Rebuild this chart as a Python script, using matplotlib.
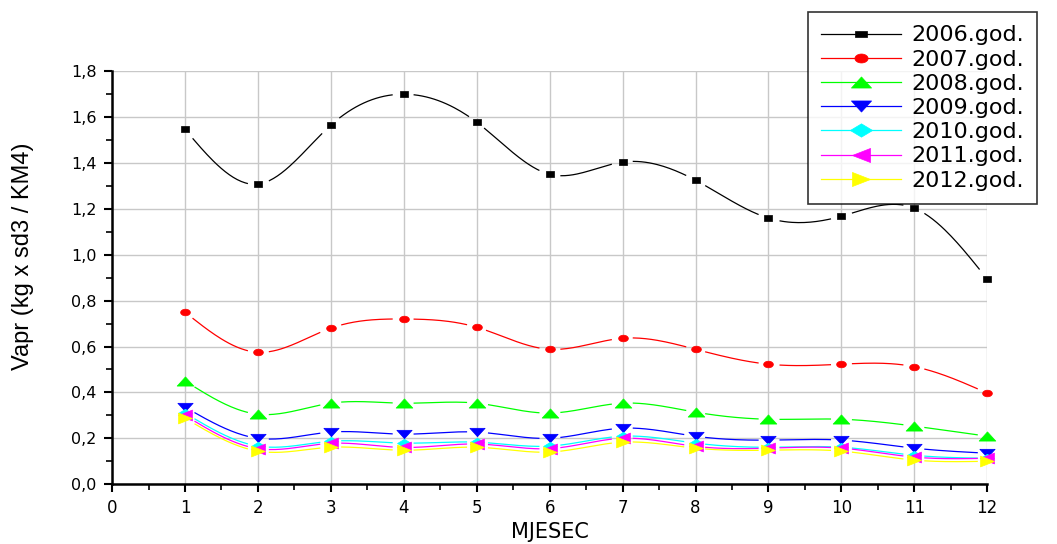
import matplotlib
matplotlib.use("Agg")
import matplotlib.pyplot as plt
from matplotlib.path import Path
import numpy as np

plt.rcParams['font.family'] = ['DejaVu Sans']

months = [1, 2, 3, 4, 5, 6, 7, 8, 9, 10, 11, 12]

v2006 = [1.547, 1.308, 1.565, 1.700, 1.578, 1.351, 1.404, 1.325, 1.160, 1.168, 1.203, 0.894]
v2007 = [0.750, 0.575, 0.680, 0.720, 0.684, 0.588, 0.636, 0.588, 0.523, 0.523, 0.512, 0.397]
v2008 = [0.450, 0.305, 0.353, 0.353, 0.353, 0.310, 0.353, 0.314, 0.283, 0.283, 0.253, 0.209]
v2009 = [0.336, 0.200, 0.227, 0.218, 0.227, 0.200, 0.244, 0.209, 0.192, 0.192, 0.157, 0.135]
v2010 = [0.310, 0.166, 0.187, 0.179, 0.183, 0.166, 0.209, 0.179, 0.161, 0.161, 0.126, 0.113]
v2011 = [0.300, 0.155, 0.178, 0.160, 0.175, 0.155, 0.200, 0.165, 0.157, 0.157, 0.118, 0.113]
v2012 = [0.288, 0.144, 0.161, 0.148, 0.161, 0.140, 0.183, 0.157, 0.148, 0.144, 0.105, 0.100]

labels = ['2006.god.', '2007.god.', '2008.god.', '2009.god.', '2010.god.', '2011.god.', '2012.god.']


def spline(x, y, n=400):
	# natural cubic spline, only used to draw the smooth connecting line
	x = np.asarray(x, float)
	y = np.asarray(y, float)
	k = len(x)
	h = np.diff(x)
	A = np.zeros((k, k))
	b = np.zeros(k)
	A[0, 0] = 1
	A[-1, -1] = 1
	for i in range(1, k - 1):
		A[i, i - 1] = h[i - 1]
		A[i, i] = 2 * (h[i - 1] + h[i])
		A[i, i + 1] = h[i]
		b[i] = 6 * ((y[i + 1] - y[i]) / h[i] - (y[i] - y[i - 1]) / h[i - 1])
	M = np.linalg.solve(A, b)
	xs = np.linspace(x[0], x[-1], n)
	idx = np.clip(np.searchsorted(x, xs) - 1, 0, k - 2)
	x0, x1 = x[idx], x[idx + 1]
	hh = x1 - x0
	t0 = x1 - xs
	t1 = xs - x0
	ys = (M[idx] * t0 ** 3 + M[idx + 1] * t1 ** 3) / (6 * hh) \
		+ (y[idx] / hh - M[idx] * hh / 6) * t0 + (y[idx + 1] / hh - M[idx + 1] * hh / 6) * t1
	return xs, ys


# flattened marker shapes (the original picture is stretched sideways)
t = np.linspace(0, 2 * np.pi, 40)
m_square = Path([(-1, -0.62), (1, -0.62), (1, 0.62), (-1, 0.62), (-1, -0.62)], closed=True)
m_circle = Path(np.column_stack([np.cos(t), 0.68 * np.sin(t)]), closed=True)
m_up = Path([(-1, -0.55), (1, -0.55), (0, 0.55), (-1, -0.55)], closed=True)
m_down = Path([(-1, 0.55), (1, 0.55), (0, -0.55), (-1, 0.55)], closed=True)
m_diamond = Path([(-1, 0), (0, 0.6), (1, 0), (0, -0.6), (-1, 0)], closed=True)
m_left = Path([(-1, 0), (1, 0.78), (1, -0.78), (-1, 0)], closed=True)
m_right = Path([(1, 0), (-1, 0.78), (-1, -0.78), (1, 0)], closed=True)

fig = plt.figure(figsize=(10.57, 5.44), dpi=100)
ax = fig.add_axes([0.106, 0.110, 0.828, 0.759])
ax.set_xlim(0, 12)
ax.set_ylim(0, 1.8)

series = [v2006, v2007, v2008, v2009, v2010, v2011, v2012]
colors = ['#000000', '#ff0000', '#00ff00', '#0000ff', '#00ffff', '#ff00ff', '#ffff00']
markers = [m_square, m_circle, m_up, m_down, m_diamond, m_left, m_right]
msizes = [6, 7, 12, 11, 10, 10, 10]
leg_sizes = [8, 9.5, 14.5, 14.5, 16, 13, 13]
gap = 10  # pixels of line left out around each marker

handles = []
for vals, c, m, ms, lms, lab in zip(series, colors, markers, msizes, leg_sizes, labels):
	xs, ys = spline(months, vals)
	pts = ax.transData.transform(np.column_stack([xs, ys]))
	dat = ax.transData.transform(np.column_stack([months, vals]))
	dist = np.min(np.hypot(pts[:, None, 0] - dat[None, :, 0], pts[:, None, 1] - dat[None, :, 1]), axis=1)
	ys = np.where(dist < gap, np.nan, ys)
	ax.plot(xs, ys, color=c, lw=0.9, zorder=3)
	ax.plot(months, vals, linestyle='none', marker=m, ms=ms, color=c, mec=c, mew=0.5, zorder=4, clip_on=False)
	h, = ax.plot([], [], color=c, lw=0.9, marker=m, ms=lms, mec=c, mew=0.5)
	handles.append(h)

ax.set_xticks(range(0, 13))
ax.set_xticks(np.arange(0.5, 12, 1), minor=True)
ax.set_yticks(np.arange(0, 1.81, 0.2))
ax.set_yticks(np.arange(0.1, 1.8, 0.2), minor=True)
ax.set_yticklabels([f"{v:.1f}".replace('.', ',') for v in np.arange(0, 1.81, 0.2)])

ax.tick_params(axis='x', which='major', labelsize=12, pad=5)
ax.tick_params(axis='y', which='major', labelsize=11.5, pad=5)
ax.tick_params(axis='both', which='major', length=6, width=1.5, direction='out')
ax.tick_params(axis='both', which='minor', length=4, width=1.2, direction='out')

ax.grid(which='major', color='#c8c8c8', lw=1)
ax.set_axisbelow(True)

for spine in ('top', 'right'):
	ax.spines[spine].set_visible(False)
for spine in ('left', 'bottom'):
	ax.spines[spine].set_linewidth(1.8)

ax.set_xlabel('MJESEC', fontsize=15, labelpad=3)
ax.set_ylabel('Vapr (kg x sd3 / KM4)', fontsize=17, family=['Liberation Sans'])
ax.yaxis.set_label_coords(-0.089, 0.552)

legend = fig.legend(handles, labels, loc='upper left', bbox_to_anchor=(0.7644, 0.978),
					borderaxespad=0, fontsize=16, handlelength=3.6, frameon=True, fancybox=False,
					borderpad=0.6, labelspacing=0.19, handletextpad=0.45)
legend.get_frame().set_edgecolor('black')
legend.get_frame().set_linewidth(1.2)

plt.savefig('out.png', dpi=100)
